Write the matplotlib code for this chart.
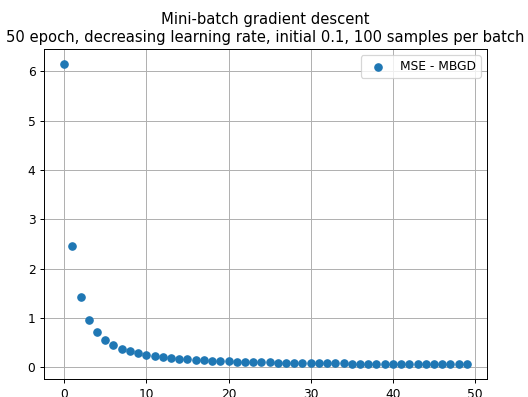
import matplotlib.pyplot as plt
import numpy as np

# MSE per epoch
epochs = list(range(50))
mse = [6.15, 2.47, 1.43, 0.96, 0.72, 0.56, 0.45, 0.38, 0.34, 0.29,
       0.25, 0.23, 0.21, 0.20, 0.18, 0.165, 0.155, 0.15, 0.14, 0.13,
       0.125, 0.12, 0.115, 0.11, 0.11, 0.105, 0.10, 0.10, 0.095, 0.09,
       0.09, 0.09, 0.085, 0.085, 0.085, 0.08, 0.08, 0.08, 0.075, 0.075,
       0.075, 0.075, 0.075, 0.07, 0.07, 0.07, 0.07, 0.07, 0.07, 0.07]

# reference looks like a default figure shrunk a bit, so use a lower dpi
dpi = 88.2
fig = plt.figure(figsize=(528 / dpi, 397 / dpi), dpi=dpi)
# axes box from the reference: x 44..487, y 49..379 px
ax = fig.add_axes([44/528, 18/397, 443/528, 330/397])
ax.scatter(epochs, mse, color='#1f77b4', label='MSE - MBGD', zorder=3)
ax.grid(True)
ax.set_title('Mini-batch gradient descent\n50 epoch, decreasing learning rate, initial 0.1, 100 samples per batch')
ax.legend(loc='upper right')

plt.savefig("out.png", dpi=dpi)
